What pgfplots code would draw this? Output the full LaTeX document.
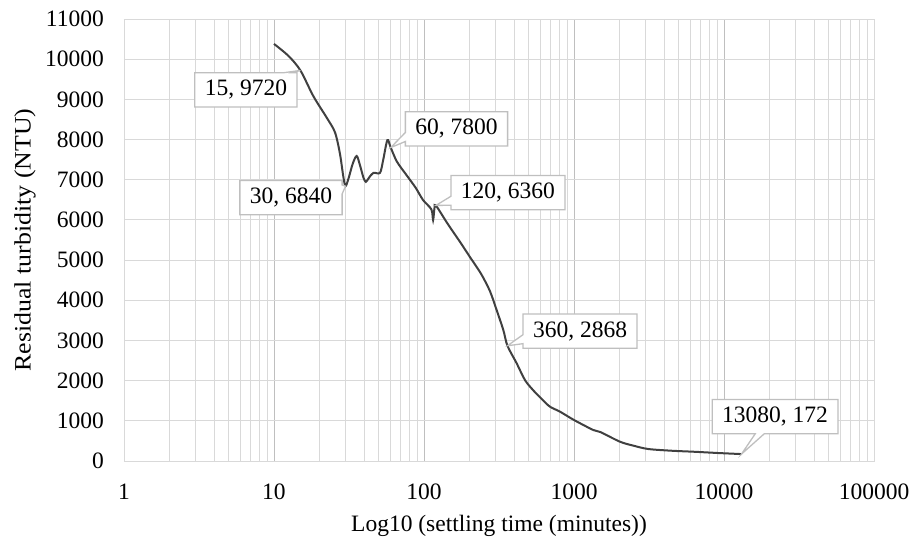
\documentclass[border=0pt]{standalone}
\usepackage{fontspec}
\setmainfont{Liberation Serif}
\usepackage{pgfplots}
\pgfplotsset{compat=1.18}
\usetikzlibrary{shapes.callouts}
\definecolor{curvec}{HTML}{404040}
\definecolor{gridc}{HTML}{D9D9D9}
\definecolor{gridm}{HTML}{BFBFBF}
\definecolor{callb}{HTML}{BFBFBF}
\newcommand{\ff}{\fontsize{23.5}{28}\selectfont}
\tikzset{mycall/.style={rectangle callout, draw=callb, fill=white, line width=1.3pt, inner xsep=10pt, inner ysep=7.5pt, callout pointer width=9pt, font=\ff}}
\pgfplotstableread{
t v
10 10380
12.5 10080
15 9720
18.3 9080
22.5 8540
25.5 8180
27.5 7654
29 7072
30 6840
31.5 7050
33.5 7400
35.6 7590
37.5 7350
39.5 7050
41 6948
43 7050
46 7172
50.9 7172
53.5 7500
57 7985
60 7800
66 7450
76.5 7114
88 6800
98.6 6493
112 6261
115 5995
117.5 6300
120 6360
144 5900
174 5450
203 5070
240 4660
275 4230
305 3756
338 3259
360 2868
415 2430
471 2015
533 1766
614 1530
692 1351
807 1227
1000 1020
1345 771
1500 720
2026 480
2500 380
3129 298
4500 255
6240 231
9000 200
13080 172
}\datatab
\begin{document}
\ff
\begin{tikzpicture}[font=\ff]
\useasboundingbox (-124pt,-77pt) rectangle (790pt,461pt);
\begin{axis}[
  at={(0,0)}, anchor=south west,
  scale only axis, width=750pt, height=442pt,
  xmode=log, log basis x=10,
  xmin=1, xmax=100000, ymin=0, ymax=11000,
  xtick={1,10,100,1000,10000,100000},
  xticklabels={1,10,100,1000,10000,100000},
  minor xtick={2,3,4,5,6,7,8,9,20,30,40,50,60,70,80,90,200,300,400,500,600,700,800,900,2000,3000,4000,5000,6000,7000,8000,9000,20000,30000,40000,50000,60000,70000,80000,90000},
  ytick={0,1000,2000,3000,4000,5000,6000,7000,8000,9000,10000,11000},
  scaled y ticks=false,
  yticklabel style={/pgf/number format/1000 sep={}, /pgf/number format/fixed},
  /pgf/number format/assume math mode=true,
  grid=both,
  major grid style={draw=gridc, line width=0.9pt},
  minor grid style={draw=gridc, line width=0.9pt},
  major x grid style={draw=gridm, line width=0.9pt},
  axis line style={draw=gridc, line width=0.9pt},
  major tick length=0pt, minor tick length=0pt,
  x tick label style={inner sep=0pt, anchor=north, yshift=-23pt, font=\ff},
  y tick label style={inner sep=0pt, anchor=east, xshift=-20pt, font=\ff},
  xlabel={Log10 (settling time (minutes))},
  ylabel={\scalebox{1.1}[1]{Residual turbidity (NTU)}},
  every axis x label/.style={at={(axis description cs:0.5,-0.147)}, anchor=center, font=\ff},
  every axis y label/.style={at={(axis description cs:-0.132,0.5)}, rotate=90, anchor=center, font=\ff},
]
\addplot[curvec, line width=2pt, smooth, tension=0.5, no marks] table[x=t, y=v] {\datatab};
\node[mycall, callout absolute pointer={(axis cs:15,9720)}] at (axis cs:6.5,9236) {15, 9720};
\node[mycall, callout absolute pointer={(axis cs:30,6840)}] at (axis cs:12.98,6555) {30, 6840};
\node[mycall, callout absolute pointer={(axis cs:60,7800)}] at (axis cs:164.7,8266) {60, 7800};
\node[mycall, callout absolute pointer={(axis cs:120,6360)}] at (axis cs:363,6679) {120, 6360};
\node[mycall, callout absolute pointer={(axis cs:360,2868)}] at (axis cs:1097,3234) {360, 2868};
\node[mycall, callout absolute pointer={(axis cs:13080,172)}] at (axis cs:21900,1102) {13080, 172};
\end{axis}
\end{tikzpicture}
\end{document}
